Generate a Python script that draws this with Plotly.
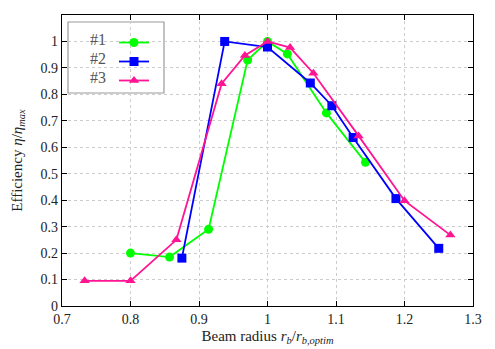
"""
plot.py

Normalised efficiency versus normalised beam radius for three cases.
"""

import plotly.graph_objects as go

# --- data ---
x_case1 = [0.8, 0.857, 0.914, 0.971, 1.0, 1.029, 1.086, 1.143]
y_case1 = [0.20, 0.185, 0.29, 0.93, 1.0, 0.953, 0.73, 0.543]

x_case2 = [0.875, 0.9375, 1.0, 1.0625, 1.094, 1.125, 1.1875, 1.25]
y_case2 = [0.181, 1.0, 0.979, 0.843, 0.757, 0.637, 0.406, 0.218]

x_case3 = [0.733, 0.8, 0.867, 0.933, 0.967, 1.0, 1.033, 1.067, 1.133, 1.2, 1.267]
y_case3 = [0.095, 0.095, 0.25, 0.84, 0.947, 1.0, 0.977, 0.88, 0.643, 0.398, 0.268]

case_labels = ['#1', '#2', '#3']

COLORS = {'#1': '#00ff00', '#2': '#0000ff', '#3': '#ff1493'}
SYMBOLS = {'#1': 'circle', '#2': 'square', '#3': 'triangle-up'}

FONT = 'Liberation Serif'
TEXT_COLOR = '#222222'

# the page body keeps its default 8px margin, so the figure is shrunk by that much
OFF = 8
W, H = 495 - OFF, 349 - OFF
M = dict(l=62 - OFF, r=22, t=15 - OFF, b=43)


def to_paper(px, py):
    """Pixel position in the window -> paper coordinates of the plot area."""
    pw = W - M['l'] - M['r']
    ph = H - M['t'] - M['b']
    return (px - OFF - M['l']) / pw, (H - M['b'] - (py - OFF)) / ph


fig = go.Figure()

series = zip(case_labels, [x_case1, x_case2, x_case3], [y_case1, y_case2, y_case3])
for label, xs, ys in series:
    fig.add_trace(go.Scatter(
        x=xs, y=ys, mode='lines+markers', name=' ',
        line=dict(color=COLORS[label], width=1.8),
        marker=dict(symbol=SYMBOLS[label], size=9, color=COLORS[label]),
    ))

# legend frame; the labels sit to the left of the line samples
bx0, by1 = to_paper(68, 22)
bx1, by0 = to_paper(164, 93)
fig.add_shape(type='rect', xref='paper', yref='paper',
              x0=bx0, x1=bx1, y0=by0, y1=by1,
              line=dict(color='#999999', width=1.2), fillcolor='white', layer='below')

lx, ly = to_paper(114, 28)
for i, label in enumerate(case_labels):
    ax, ay = to_paper(108, 39 + 19 * i)
    fig.add_annotation(x=ax, y=ay, xref='paper', yref='paper', text=label,
                       showarrow=False, xanchor='right', yanchor='middle',
                       font=dict(family=FONT, size=16, color='#555555'))

axis_style = dict(
    showline=True, linecolor='black', linewidth=1.3, mirror='ticks',
    ticks='inside', ticklen=5, tickcolor='black',
    showgrid=True, gridcolor='#cccccc', griddash='dot', gridwidth=1,
    zeroline=False, tickfont=dict(family=FONT, size=14, color=TEXT_COLOR),
)

fig.update_xaxes(range=[0.7, 1.3], dtick=0.1, tick0=0.7,
                 title=dict(text='Beam radius <i>r<sub>b</sub></i>/<i>r<sub>b,optim</sub></i>',
                            font=dict(family=FONT, size=15, color=TEXT_COLOR), standoff=4),
                 **axis_style)
fig.update_yaxes(range=[0, 1.1], dtick=0.1, tick0=0,
                 title=dict(text='Efficiency <i>η</i>/<i>η<sub>max</sub></i>',
                            font=dict(family=FONT, size=15, color=TEXT_COLOR), standoff=14),
                 **axis_style)

fig.update_layout(
    width=W, height=H, margin=M,
    plot_bgcolor='white', paper_bgcolor='white',
    font=dict(family=FONT),
    legend=dict(x=lx, y=ly, xanchor='left', yanchor='top',
                bgcolor='rgba(0,0,0,0)', borderwidth=0,
                font=dict(family=FONT, size=11)),
)

fig.write_html("out.html")
